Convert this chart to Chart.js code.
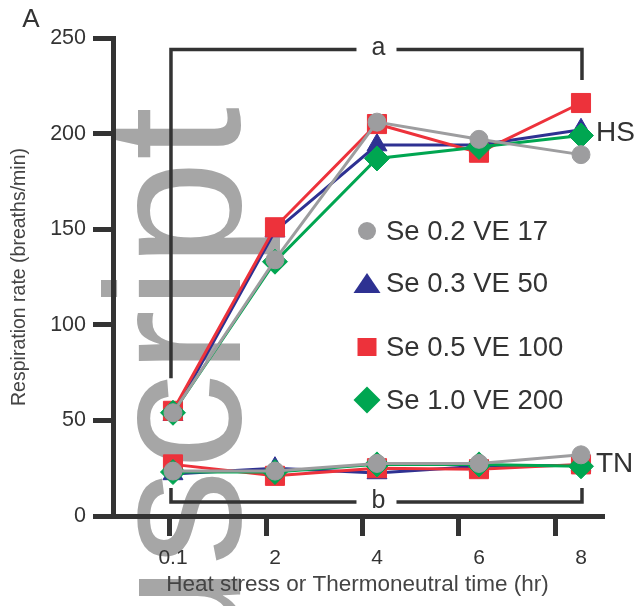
<!DOCTYPE html>
<html>
<head>
<meta charset="utf-8">
<script src="https://cdn.jsdelivr.net/npm/chart.js@4/dist/chart.umd.min.js"></script>
<style>
  html, body { margin: 0; padding: 0; background: #fff; }
  #wrap { position: relative; width: 643px; height: 606px; }
</style>
</head>
<body>
<div id="wrap"><canvas id="resp"></canvas></div>
<script>
const FONT = '"Liberation Sans", Arial, Helvetica, sans-serif';

// data
const time_labels = ["0.1", "2", "4", "6", "8"];
const series_names = ["Se 0.2 VE 17", "Se 0.3 VE 50", "Se 0.5 VE 100", "Se 1.0 VE 200"];
const hs_gray  = [54, 134, 206, 197, 189];
const hs_blue  = [53, 149, 194, 194, 202];
const hs_red   = [55, 151, 205, 190, 216];
const hs_green = [54, 133, 187, 193, 199];
const tn_gray  = [23.5, 23.5, 27.5, 27.5, 32];
const tn_blue  = [22, 25, 22.5, 26, 26.5];
const tn_red   = [27, 21, 25, 24.5, 27];
const tn_green = [23, 23, 27, 27, 26];
const y_ticks = [0, 50, 100, 150, 200, 250];

// significance brackets: [x from, x to, y of bar, y of left stub end, y of right stub end]
const bracket_a = [0, 4, 244, 72, 228];
const bracket_b = [0, 4, 7.3, 14.6, 14.6];

const colours = ["#9d9d9f", "#2e3192", "#ed323b", "#00a651"];
const styles  = ["circle", "triangle", "rect", "rectRot"];
const radii   = [9, 11.5, 13.5, 12.5];
const draw_order = [0, 3, 2, 1];   // gray on top, then green, red, blue

const hs_sets = [hs_gray, hs_blue, hs_red, hs_green];
const tn_sets = [tn_gray, tn_blue, tn_red, tn_green];

function toPoints(arr) {
    return arr.map((v, i) => ({ x: i, y: v }));
}

let datasets = [];
for (let s = 0; s < 4; s ++) {
    [hs_sets[s], tn_sets[s]].forEach(vals => {
        datasets.push({
            label: series_names[s],
            data: toPoints(vals),
            borderColor: colours[s],
            backgroundColor: colours[s],
            borderWidth: 3,
            tension: 0,
            pointStyle: styles[s],
            pointRadius: radii[s],
            pointBackgroundColor: colours[s],
            pointBorderColor: colours[s],
            pointBorderWidth: 1,
            order: draw_order[s],
            xAxisID: "x",
            yAxisID: "y"
        });
    });
}

function marker(ctx, style, x, y, w, h) {
    ctx.beginPath();
    if (style === "circle") {
        ctx.arc(x, y, w / 2, 0, Math.PI * 2);
    } else if (style === "triangle") {
        ctx.moveTo(x, y - h / 2);
        ctx.lineTo(x + w / 2, y + h / 2);
        ctx.lineTo(x - w / 2, y + h / 2);
    } else if (style === "rect") {
        ctx.rect(x - w / 2, y - h / 2, w, h);
    } else {
        ctx.moveTo(x, y - h / 2);
        ctx.lineTo(x + w / 2, y);
        ctx.lineTo(x, y + h / 2);
        ctx.lineTo(x - w / 2, y);
    }
    ctx.closePath();
    ctx.fill();
}

const legend_rows = [231, 283, 347, 400];
const legend_sizes = [[18, 18], [27, 20], [19, 18], [27, 27]];

const decorations = {
    id: "decorations",
    beforeDraw(chart) {
        // faint vertical watermark behind the plot
        const ctx = chart.ctx;
        ctx.save();
        ctx.fillStyle = "#a6a6a6";
        ctx.font = "192px " + FONT;
        ctx.translate(240, 107);
        ctx.rotate(-Math.PI / 2);
        ctx.textAlign = "right";
        ctx.textBaseline = "alphabetic";
        ctx.fillText("Author Manuscript", 0, 0);
        ctx.restore();
    },
    afterDraw(chart) {
        const ctx = chart.ctx;
        const xs = chart.scales.x, ys = chart.scales.y;
        ctx.save();

        // brackets a and b
        ctx.strokeStyle = "#333";
        ctx.lineWidth = 3.5;
        ctx.fillStyle = "#333";
        ctx.font = "25px " + FONT;
        ctx.textAlign = "center";
        ctx.textBaseline = "middle";
        [[bracket_a, "a"], [bracket_b, "b"]].forEach(([b, letter]) => {
            const x0 = xs.getPixelForValue(b[0]) - 2;
            const x1 = xs.getPixelForValue(b[1]) + 1;
            const yb = ys.getPixelForValue(b[2]);
            const yl = ys.getPixelForValue(b[3]);
            const yr = ys.getPixelForValue(b[4]);
            const mid = (x0 + x1) / 2;
            ctx.beginPath();
            ctx.moveTo(x0, yl);
            ctx.lineTo(x0, yb);
            ctx.lineTo(mid - 20, yb);
            ctx.moveTo(mid + 20, yb);
            ctx.lineTo(x1, yb);
            ctx.lineTo(x1, yr);
            ctx.stroke();
            ctx.fillText(letter, mid + 2, yb - 1);
        });

        // HS / TN tags
        ctx.font = "28px " + FONT;
        ctx.textAlign = "left";
        ctx.fillText("HS", xs.getPixelForValue(4) + 15, ys.getPixelForValue(200));
        ctx.fillText("TN", xs.getPixelForValue(4) + 15, ys.getPixelForValue(27));

        // panel letter
        ctx.font = "26px " + FONT;
        ctx.textAlign = "center";
        ctx.fillText("A", 31, 20);

        // legend
        ctx.font = "27.5px " + FONT;
        ctx.textAlign = "left";
        for (let s = 0; s < 4; s ++) {
            ctx.fillStyle = colours[s];
            marker(ctx, styles[s], 367, legend_rows[s], legend_sizes[s][0], legend_sizes[s][1]);
            ctx.fillStyle = "#333";
            ctx.fillText(series_names[s], 386, legend_rows[s] + 1);
        }
        ctx.restore();
    }
};

const ctx = document.getElementById("resp").getContext("2d");
new Chart(ctx, {
    type: "line",
    data: { datasets: datasets },
    options: {
        responsive: true,
        maintainAspectRatio: false,
        animation: false,
        events: [],
        layout: { padding: { left: 0, top: 38, right: 41, bottom: 0 } },
        plugins: { legend: { display: false }, tooltip: { enabled: false } },
        scales: {
            y: {
                type: "linear",
                position: "left",
                min: 0,
                max: 250,
                afterFit: (s) => { s.width = 113; },
                afterBuildTicks: (s) => { s.ticks = y_ticks.map(v => ({ value: v })); },
                border: { display: true, width: 5, color: "#333" },
                grid: { drawOnChartArea: false, drawTicks: true, tickLength: 20, lineWidth: 5, color: "#333" },
                ticks: { font: { family: FONT, size: 21.5 }, color: "#333", padding: 7 },
                title: {
                    display: true,
                    text: "Respiration rate (breaths/min)",
                    font: { family: FONT, size: 19.5 },
                    color: "#444",
                    padding: { top: 8, bottom: 0 }
                }
            },
            xt: {
                type: "linear",
                position: "bottom",
                weight: 0,
                min: -0.592,
                max: 4.488,
                afterFit: (s) => { s.height = 20; },
                afterBuildTicks: (s) => { s.ticks = time_labels.map((t, i) => ({ value: i })); },
                border: { display: true, width: 5, color: "#333" },
                grid: { drawOnChartArea: false, drawTicks: true, tickLength: 20, lineWidth: 5, color: "#333" },
                ticks: { display: false }
            },
            x: {
                type: "linear",
                position: "bottom",
                weight: 1,
                min: -0.588,
                max: 4.206,
                afterFit: (s) => { s.height = 70; },
                afterBuildTicks: (s) => { s.ticks = time_labels.map((t, i) => ({ value: i })); },
                border: { display: false },
                grid: { display: false, drawTicks: false },
                ticks: {
                    font: { family: FONT, size: 21 },
                    color: "#333",
                    padding: 10,
                    maxRotation: 0,
                    callback: (v) => time_labels[v]
                },
                title: {
                    display: true,
                    text: "Heat stress or Thermoneutral time (hr)",
                    font: { family: FONT, size: 22.5 },
                    color: "#444",
                    padding: { top: 0, bottom: 8 }
                }
            }
        }
    },
    plugins: [decorations]
});
</script>
</body>
</html>
